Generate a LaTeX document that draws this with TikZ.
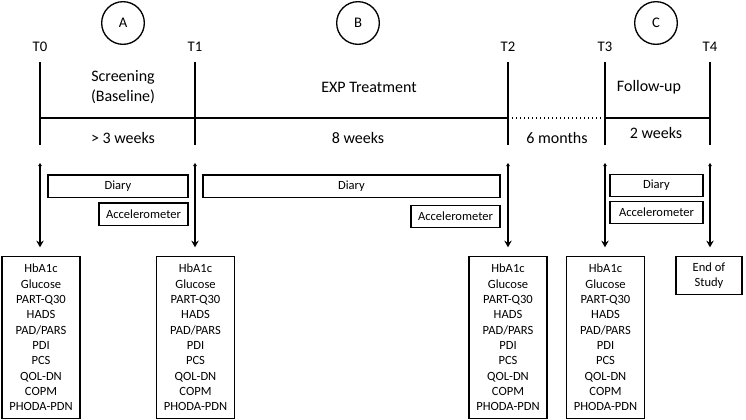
\documentclass[tikz,border=0pt]{standalone}
\usepackage{fontspec}
\setmainfont{Carlito}
\usetikzlibrary{arrows.meta, calc}

\newcommand{\measlist}{HbA1c\\Glucose\\PART-Q30\\HADS\\PAD/PARS\\PDI\\PCS\\QOL-DN\\COPM\\PHODA-PDN}

\begin{document}
\begin{tikzpicture}[x=0.75pt, y=-0.75pt, line width=1pt,
        tlabel/.style={font=\fontsize{11}{13}\selectfont},
        plabel/.style={align=center, font=\fontsize{12}{14.5}\selectfont},
        phase/.style={draw, circle, minimum size=32pt, inner sep=0pt, font=\fontsize{11}{13}\selectfont},
        bar/.style={draw, minimum height=16.75pt, inner sep=0pt, font=\fontsize{9.4}{11}\selectfont},
        meas/.style={draw, anchor=north, align=center, inner xsep=2pt, inner ysep=3pt, minimum width=58.5pt, minimum height=121.5pt, font=\fontsize{9.4}{11.5}\selectfont},
        visit/.style={{Stealth[length=2.5pt,width=3pt]}-{Stealth[length=5pt,width=5.5pt]}, line width=0.9pt, shorten >=6.5pt}]
        \useasboundingbox (0,0) rectangle (746,419);

        % phases
        \node[phase] (A) at (123, 23) {A};
        \node[phase] (B) at (358, 23) {B};
        \node[phase] (C) at (656, 23) {C};

        % time points
        \node[tlabel] (T0) at (40, 47) {T0};
        \node[tlabel] (T1) at (195, 47) {T1};
        \node[tlabel] (T2) at (508, 47) {T2};
        \node[tlabel] (T3) at (605, 47) {T3};
        \node[tlabel] (T4) at (710, 47) {T4};

        \coordinate (t0a) at (40, 62);  \coordinate (t0b) at (40, 145);
        \coordinate (t1a) at (195, 62); \coordinate (t1b) at (195, 145);
        \coordinate (t2a) at (508, 62); \coordinate (t2b) at (508, 145);
        \coordinate (t3a) at (605, 62); \coordinate (t3b) at (605, 145);
        \coordinate (t4a) at (710, 62); \coordinate (t4b) at (710, 145);
        \draw (t0a) -- (t0b);
        \draw (t1a) -- (t1b);
        \draw (t2a) -- (t2b);
        \draw (t3a) -- (t3b);
        \draw (t4a) -- (t4b);

        \coordinate (X0) at (40, 118);
        \coordinate (X2) at (508, 118);
        \coordinate (X3) at (605, 118);
        \coordinate (X4) at (710, 118);
        \draw (X0) -- (X2);
        \draw[dotted] (X2) -- (X3);
        \draw (X3) -- (X4);

        \node[plabel] (scr) at (123, 87) {Screening\\(Baseline)};
        \node[plabel] (exp) at (369, 87) {EXP Treatment};
        \node[plabel] (fol) at (649, 87) {Follow-up};
        \node[plabel] (d0) at (123, 138) {> 3 weeks};
        \node[plabel] (d1) at (358, 138) {8 weeks};
        \node[plabel] (d2) at (557, 138) {6 months};
        \node[plabel] (d3) at (656, 133) {2 weeks};

        % diary and accelerometer
        \node[bar, minimum width=105pt] (diary0) at (118, 186) {Diary};
        \node[bar, minimum width=66.75pt] (acc0) at (143.5, 214) {Accelerometer};
        \node[bar, minimum width=222.75pt] (diary1) at (351.5, 186) {Diary};
        \node[bar, minimum width=66.75pt] (acc1) at (455.5, 216.5) {Accelerometer};
        \node[bar, minimum width=69.75pt] (diary2) at (656.5, 185.5) {Diary};
        \node[bar, minimum width=69.75pt] (acc2) at (656.5, 212.5) {Accelerometer};

        % measurements
        \node[meas] (m0) at (41, 256) {\measlist};
        \node[meas] (m1) at (195.5, 256) {\measlist};
        \node[meas] (m2) at (508, 256) {\measlist};
        \node[meas] (m3) at (605.5, 256) {\measlist};
        \node[meas, minimum width=49.5pt, minimum height=28.5pt, inner ysep=2pt] (m4) at (709, 256) {End of\\Study};

        \coordinate (v0) at (40, 163);
        \coordinate (v1) at (195, 163);
        \coordinate (v2) at (508, 163);
        \coordinate (v3) at (605, 163);
        \coordinate (v4) at (710, 163);
        \draw[visit] (v0) -- (v0 |- m0.north);
        \draw[visit] (v1) -- (v1 |- m1.north);
        \draw[visit] (v2) -- (v2 |- m2.north);
        \draw[visit] (v3) -- (v3 |- m3.north);
        \draw[visit] (v4) -- (v4 |- m4.north);
    \end{tikzpicture}
\end{document}
